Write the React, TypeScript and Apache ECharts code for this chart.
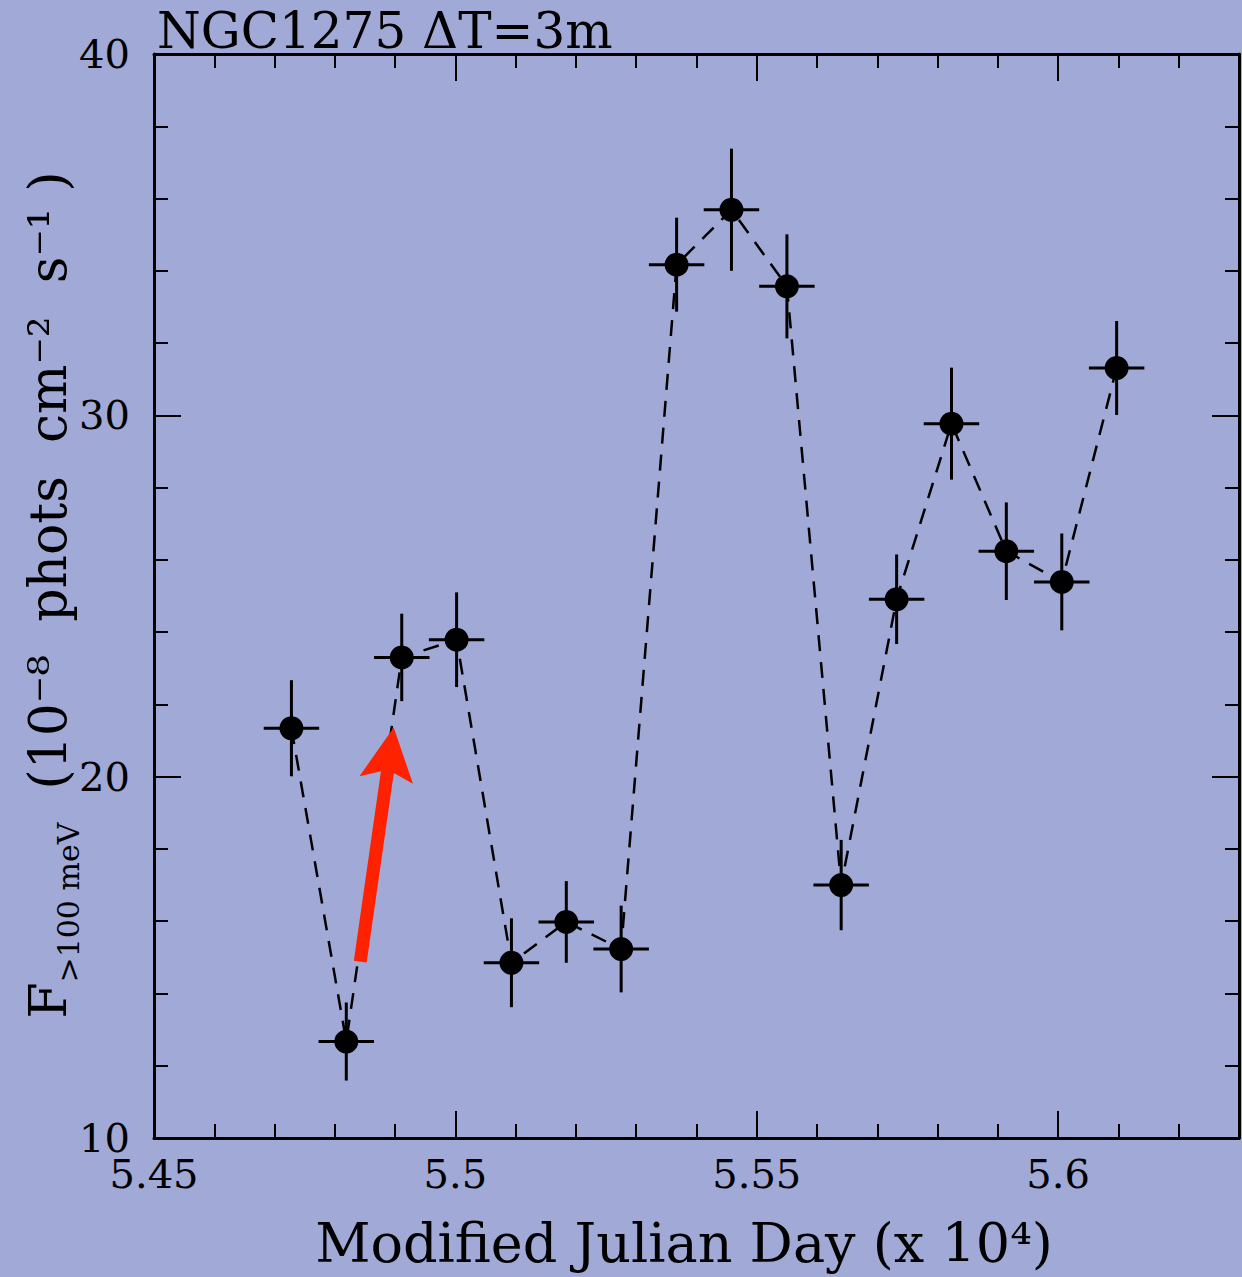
import React, { useEffect, useRef } from 'react';
import * as echarts from 'echarts';

// Modified Julian Day (x 10^4)
const mjd = [5.4728, 5.4819, 5.4911, 5.5002, 5.5093, 5.5184, 5.5275, 5.5367, 5.5458, 5.555, 5.564, 5.5732, 5.5823, 5.5914, 5.6006, 5.6097];
// Flux > 100 MeV (1e-8 phots cm^-2 s^-1)
const flux = [21.34, 12.67, 23.3, 23.79, 14.85, 15.98, 15.23, 34.17, 35.69, 33.57, 17.0, 24.91, 29.77, 26.24, 25.39, 31.31];
const fluxErr = [1.33, 1.08, 1.21, 1.31, 1.23, 1.13, 1.2, 1.3, 1.69, 1.44, 1.25, 1.24, 1.55, 1.35, 1.34, 1.3];
const mjdErr = [0.0046, 0.0046, 0.0046, 0.0046, 0.0046, 0.0046, 0.0046, 0.0046, 0.0046, 0.0046, 0.0046, 0.0046, 0.0046, 0.0046, 0.0046, 0.0046];

// annotation arrow (data coords): tail -> tip
const arrowFrom = [5.48422, 14.88];
const arrowTo = [5.48977, 21.36];

const xMin = 5.45;
const xMax = 5.63;
const yMin = 10;
const yMax = 40;

const titleText = 'NGC1275 ΔT=3m';
const xTitle = 'Modified Julian Day (x 10⁴)';

const FONT = 'DejaVu Serif';
const BG = '#a1a9d6';

export default function App() {
  const ref = useRef<HTMLDivElement>(null);
  useEffect(() => {
    if (!ref.current) return;
    const chart = echarts.init(ref.current, null, { renderer: 'svg' });
    const axisLine = { show: true, onZero: false, lineStyle: { color: '#000', width: 3 } };
    const tickStyle = { color: '#000', width: 2 };
    const xLabelFmt = (v: number) => {
      const k = Math.round(v * 100);
      return Math.abs(v * 100 - k) < 1e-6 && k % 5 === 0 ? String(k / 100) : '';
    };
    const yLabelFmt = (v: number) => {
      const k = Math.round(v);
      return Math.abs(v - k) < 1e-6 && k % 10 === 0 ? String(k) : '';
    };
    const mkX = (pos: string, interval: number, len: number, labels: boolean, line: boolean) => ({
      type: 'value', position: pos, min: xMin, max: xMax, interval,
      splitLine: { show: false },
      axisLine: line ? axisLine : { show: false },
      axisTick: { show: true, inside: true, length: len, lineStyle: tickStyle },
      axisLabel: labels
        ? { show: true, formatter: xLabelFmt, fontSize: 40, fontFamily: FONT, color: '#000', margin: 16 }
        : { show: false },
    });
    const mkY = (pos: string, interval: number, len: number, labels: boolean, line: boolean) => ({
      type: 'value', position: pos, min: yMin, max: yMax, interval,
      splitLine: { show: false },
      axisLine: line ? axisLine : { show: false },
      axisTick: { show: true, inside: true, length: len, lineStyle: tickStyle },
      axisLabel: labels
        ? { show: true, formatter: yLabelFmt, fontSize: 40, fontFamily: FONT, color: '#000', margin: 24 }
        : { show: false },
    });

    const points = mjd.map((x, i) => [x, flux[i]]);
    const errData = mjd.map((x, i) => [x, flux[i], fluxErr[i], mjdErr[i]]);

    chart.setOption({
      animation: false,
      backgroundColor: BG,
      grid: { left: 154, right: 2, top: 54, bottom: 139, containLabel: false },
      xAxis: [
        mkX('bottom', 0.01, 14, true, true),
        mkX('bottom', 0.05, 27, false, false),
        mkX('top', 0.01, 14, false, true),
        mkX('top', 0.05, 27, false, false),
      ],
      yAxis: [
        mkY('left', 2, 14, true, true),
        mkY('left', 10, 27, false, false),
        mkY('right', 2, 14, false, true),
        mkY('right', 10, 27, false, false),
      ],
      graphic: [
        {
          type: 'text', x: 157, y: 31,
          style: { text: titleText, fontSize: 50, fontFamily: FONT, fill: '#000', align: 'left', verticalAlign: 'middle' },
        },
        {
          type: 'text', x: 684, y: 1243,
          style: { text: xTitle, fontSize: 54, fontFamily: FONT, fill: '#000', align: 'center', verticalAlign: 'middle' },
        },
        {
          type: 'text', x: 48, y: 595, rotation: Math.PI / 2,
          style: {
            text: '{m|F}{s|>100 meV}{m|  (10⁻⁸  phots  cm⁻²  s⁻¹ )}',
            fontFamily: FONT, fill: '#000', align: 'center', verticalAlign: 'middle',
            rich: {
              m: { fontSize: 52, fontFamily: FONT, lineHeight: 70, fill: '#000', verticalAlign: 'middle' },
              s: { fontSize: 30, fontFamily: FONT, lineHeight: 30, fill: '#000', verticalAlign: 'bottom' },
            },
          },
        },
      ],
      series: [
        {
          type: 'custom',
          xAxisIndex: 0, yAxisIndex: 0,
          data: errData,
          encode: { x: 0, y: 1 },
          z: 2,
          renderItem: (params: any, api: any) => {
            const x = api.value(0), y = api.value(1), ey = api.value(2), ex = api.value(3);
            const t = api.coord([x, y + ey]);
            const b = api.coord([x, y - ey]);
            const l = api.coord([x - ex, y]);
            const r = api.coord([x + ex, y]);
            return {
              type: 'group',
              children: [
                { type: 'line', shape: { x1: t[0], y1: t[1], x2: b[0], y2: b[1] }, style: { stroke: '#000', lineWidth: 3 } },
                { type: 'line', shape: { x1: l[0], y1: l[1], x2: r[0], y2: r[1] }, style: { stroke: '#000', lineWidth: 3 } },
              ],
            };
          },
        },
        {
          type: 'line',
          xAxisIndex: 0, yAxisIndex: 0,
          data: points,
          z: 3,
          symbol: 'circle',
          symbolSize: 24,
          showSymbol: true,
          itemStyle: { color: '#000' },
          lineStyle: { color: '#000', width: 2.5, type: [16, 11] },
        },
        {
          type: 'custom',
          xAxisIndex: 0, yAxisIndex: 0,
          data: [[arrowFrom[0], arrowFrom[1], arrowTo[0], arrowTo[1]]],
          encode: { x: [0, 2], y: [1, 3] },
          z: 4,
          renderItem: (params: any, api: any) => {
            const p0 = api.coord([api.value(0), api.value(1)]);
            const p1 = api.coord([api.value(2), api.value(3)]);
            const dx = p1[0] - p0[0], dy = p1[1] - p0[1];
            const len = Math.sqrt(dx * dx + dy * dy);
            const ux = dx / len, uy = dy / len;
            const nx = -uy, ny = ux;
            const shaftW = 13, headW = 54, headL = 53, notch = 8;
            const pt = (along: number, side: number) => [p0[0] + ux * along + nx * side, p0[1] + uy * along + ny * side];
            const pts = [
              pt(0, -shaftW / 2),
              pt(len - headL + notch, -shaftW / 2),
              pt(len - headL, -headW / 2),
              pt(len, 0),
              pt(len - headL, headW / 2),
              pt(len - headL + notch, shaftW / 2),
              pt(0, shaftW / 2),
            ];
            return { type: 'polygon', shape: { points: pts }, style: { fill: '#ff2200', stroke: 'none' } };
          },
        },
      ],
    });
    return () => chart.dispose();
  }, []);
  return (
    <div style={{ position: 'absolute', left: 0, top: 0, width: 1242, height: 1277, background: BG }}>
      <div ref={ref} style={{ width: 1242, height: 1277 }} />
    </div>
  );
}
